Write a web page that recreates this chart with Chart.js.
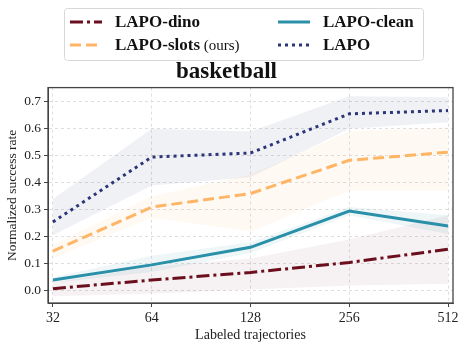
<!DOCTYPE html>
<html>
<head>
<meta charset="utf-8">
<script src="https://cdn.jsdelivr.net/npm/chart.js@4"></script>
<style>
  html, body { margin: 0; padding: 0; background: #fff; }
  #wrap { width: 465px; height: 348px; }
</style>
</head>
<body>
<div id="wrap"><canvas id="grafico"></canvas></div>
<script>
// Dados (basketball)
const trajetorias = ["32", "64", "128", "256", "512"];
const yTicks = [0.0, 0.1, 0.2, 0.3, 0.4, 0.5, 0.6, 0.7];

const lapoDino = [0.008, 0.04, 0.068, 0.105, 0.154];
const lapoDinoAlto = [0.03, 0.09, 0.12, 0.19, 0.28];
const lapoDinoBaixo = [-0.02, -0.01, 0.005, 0.02, 0.026];

const lapoClean = [0.04, 0.096, 0.161, 0.295, 0.24];
const lapoCleanAlto = [0.05, 0.13, 0.18, 0.31, 0.28];
const lapoCleanBaixo = [0.03, 0.07, 0.14, 0.28, 0.21];

const lapoSlots = [0.147, 0.31, 0.36, 0.483, 0.513];
const lapoSlotsAlto = [0.17, 0.35, 0.43, 0.59, 0.605];
const lapoSlotsBaixo = [0.12, 0.27, 0.22, 0.37, 0.37];

const lapo = [0.255, 0.495, 0.51, 0.655, 0.667];
const lapoAlto = [0.34, 0.6, 0.59, 0.72, 0.716];
const lapoBaixo = [0.206, 0.39, 0.42, 0.6, 0.624];

const serie = (vals) => vals.map((v, i) => ({ x: i, y: v }));

const series = [
  { nome: "LAPO-dino", extra: "", dados: lapoDino, alto: lapoDinoAlto, baixo: lapoDinoBaixo,
    cor: "#6b0f1f", faixa: "rgba(107,15,31,0.06)", dash: [13, 4, 3, 4] },
  { nome: "LAPO-clean", extra: "", dados: lapoClean, alto: lapoCleanAlto, baixo: lapoCleanBaixo,
    cor: "#2a8fa8", faixa: "rgba(42,143,168,0.08)", dash: [] },
  { nome: "LAPO-slots", extra: " (ours)", dados: lapoSlots, alto: lapoSlotsAlto, baixo: lapoSlotsBaixo,
    cor: "#ffb566", faixa: "rgba(255,181,102,0.08)", dash: [11, 5] },
  { nome: "LAPO", extra: "", dados: lapo, alto: lapoAlto, baixo: lapoBaixo,
    cor: "#2c3577", faixa: "rgba(44,53,119,0.07)", dash: [3, 4] }
];

const datasets = [];
series.forEach(s => {
  datasets.push({ label: "_alto", data: serie(s.alto), borderWidth: 0, pointRadius: 0, fill: false, order: 2 });
  datasets.push({ label: "_baixo", data: serie(s.baixo), borderWidth: 0, pointRadius: 0,
    fill: "-1", backgroundColor: s.faixa, order: 2 });
});
series.forEach(s => {
  datasets.push({ label: s.nome, data: serie(s.dados), borderColor: s.cor, borderWidth: 3,
    borderDash: s.dash, pointRadius: 0, fill: false, order: 1 });
});

const fonte = "'Liberation Serif', 'DejaVu Serif', serif";

// Legenda desenhada à mão
const legendaPlugin = {
  id: "legendaCustom",
  afterDraw(chart) {
    const ctx = chart.ctx;
    ctx.save();
    ctx.strokeStyle = "#d8d8d8";
    ctx.lineWidth = 1;
    ctx.fillStyle = "rgba(255,255,255,0.9)";
    ctx.beginPath();
    ctx.roundRect(64.5, 8.5, 359, 52, 3);
    ctx.fill();
    ctx.stroke();
    const pos = [
      { s: series[0], x: 70, y: 22 }, { s: series[1], x: 278, y: 22 },
      { s: series[2], x: 70, y: 45 }, { s: series[3], x: 278, y: 45 }
    ];
    pos.forEach(p => {
      ctx.strokeStyle = p.s.cor;
      ctx.lineWidth = 3;
      ctx.setLineDash(p.s.dash);
      ctx.beginPath();
      ctx.moveTo(p.x, p.y);
      ctx.lineTo(p.x + 32, p.y);
      ctx.stroke();
      ctx.setLineDash([]);
      ctx.fillStyle = "#111";
      ctx.textBaseline = "middle";
      ctx.font = "bold 17px " + fonte;
      ctx.fillText(p.s.nome, p.x + 45, p.y + 1);
      if (p.s.extra) {
        const w = ctx.measureText(p.s.nome).width;
        ctx.font = "15px " + fonte;
        ctx.fillText(p.s.extra, p.x + 45 + w, p.y + 1);
      }
    });
    ctx.restore();
  }
};

// Moldura do gráfico
const molduraPlugin = {
  id: "moldura",
  afterDatasetsDraw(chart) {
    const a = chart.chartArea;
    const ctx = chart.ctx;
    ctx.save();
    ctx.strokeStyle = "#444";
    ctx.lineWidth = 1.3;
    ctx.strokeRect(a.left, a.top, a.right - a.left, a.bottom - a.top);
    ctx.restore();
  }
};

new Chart(document.getElementById("grafico").getContext("2d"), {
  type: "line",
  data: { datasets: datasets },
  plugins: [legendaPlugin, molduraPlugin],
  options: {
    responsive: true,
    maintainAspectRatio: false,
    animation: false,
    layout: { padding: { top: 58, right: 12, left: 0, bottom: 0 } },
    plugins: {
      legend: { display: false },
      tooltip: { enabled: false },
      title: {
        display: true,
        text: "basketball",
        color: "#111",
        font: { family: fonte, size: 23, weight: "bold" },
        padding: { top: 0, bottom: 2 }
      }
    },
    scales: {
      x: {
        type: "linear",
        min: -0.05,
        max: 4.05,
        afterBuildTicks: (scale) => { scale.ticks = trajetorias.map((_, i) => ({ value: i })); },
        afterFit: (scale) => { scale.height = 45; },
        ticks: {
          callback: (v) => trajetorias[v],
          color: "#222",
          font: { family: fonte, size: 14 },
          padding: 3,
          maxRotation: 0
        },
        grid: { color: "#dedede", tickColor: "#444", tickLength: 4, lineWidth: 1 },
        border: { display: true, color: "#444", dash: [3, 3] },
        title: { display: true, text: "Labeled trajectories", color: "#222",
          font: { family: fonte, size: 14 }, padding: { top: 0 } }
      },
      y: {
        min: -0.045,
        max: 0.752,
        afterBuildTicks: (scale) => { scale.ticks = yTicks.map(v => ({ value: v })); },
        afterFit: (scale) => { scale.width = 48; },
        ticks: {
          callback: (v) => v.toFixed(1),
          color: "#222",
          font: { family: fonte, size: 13.5 },
          padding: 3
        },
        grid: { color: "#dedede", tickColor: "#444", tickLength: 4, lineWidth: 1 },
        border: { display: true, color: "#444", dash: [3, 3] },
        title: { display: true, text: "Normalized success rate", color: "#222",
          font: { family: fonte, size: 13.5 }, padding: { bottom: 1 } }
      }
    }
  }
});
</script>
</body>
</html>
